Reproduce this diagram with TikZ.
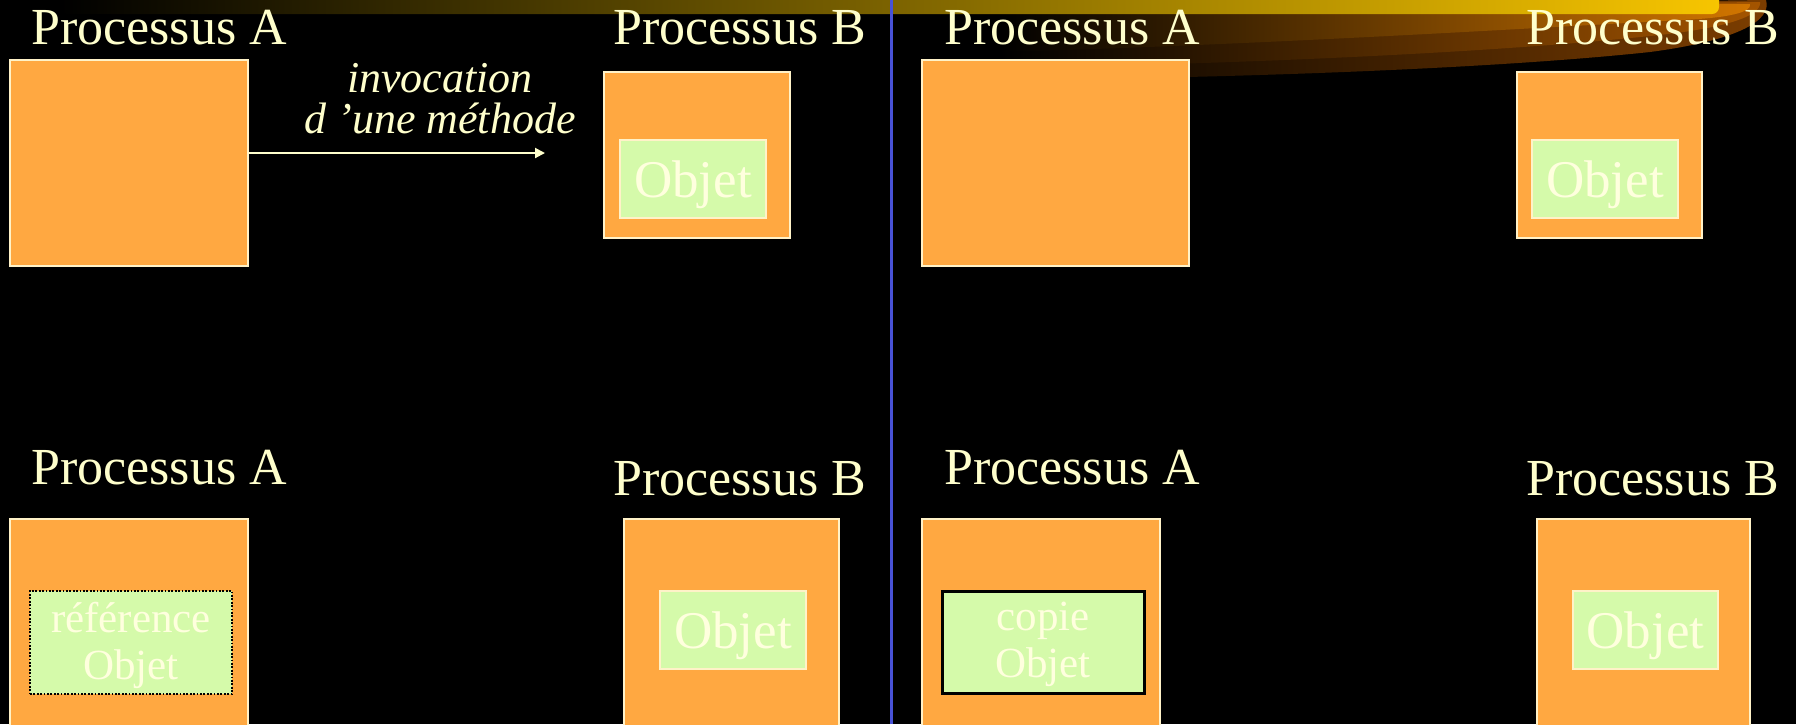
\documentclass[tikz,border=0pt]{standalone}
\usepackage{fontspec}
\setmainfont{Liberation Serif}
\usetikzlibrary{arrows.meta}
\definecolor{orangefill}{RGB}{255,168,65}
\definecolor{greenfill}{RGB}{213,250,170}
\definecolor{cream}{RGB}{255,255,204}
\definecolor{boxline}{RGB}{255,242,200}
\definecolor{objtext}{RGB}{255,255,222}
\definecolor{divider}{RGB}{72,82,214}
\definecolor{gold}{RGB}{247,197,0}
\definecolor{swooshA}{RGB}{125,62,0}
\definecolor{swooshB}{RGB}{165,85,0}
\definecolor{swooshC}{RGB}{210,118,0}
\begin{document}
\begin{tikzpicture}[x=1pt,y=-1pt,
  title/.style={anchor=base west, inner sep=0pt, text=cream, font=\fontsize{52}{56}\selectfont},
  itlabel/.style={anchor=base, inner sep=0pt, text=cream, font=\itshape\fontsize{44}{48}\selectfont},
  procbox/.style={draw=boxline, line width=2.4pt, fill=orangefill, inner sep=0pt},
  objbox/.style={draw=boxline, line width=2pt, fill=greenfill, inner sep=0pt, text depth=0pt, text=objtext, font=\fontsize{53}{56}\selectfont},
  refbox/.style={draw=black, line width=2pt, dash pattern=on 1.8pt off 1.6pt, fill=greenfill, inner sep=0pt, text depth=4pt, text=objtext, align=center, font=\fontsize{43}{47}\selectfont},
  copybox/.style={draw=black, line width=3pt, fill=greenfill, inner sep=0pt, text depth=4pt, text=objtext, align=center, font=\fontsize{43}{47}\selectfont},
  callarrow/.style={draw=cream, line width=2pt, -{Triangle[length=10pt,width=10pt]}}
]
\useasboundingbox (0,0) rectangle (1796,724);
\clip (0,0) rectangle (1796,724);
\fill[black] (0,0) rectangle (1796,724);

% decorative swoosh
\shade[left color=black, right color=swooshA]
  (1000,10) -- (1766,0) .. controls (1772,20) and (1740,40) .. (1650,52)
  .. controls (1500,68) and (1250,78) .. (1000,80) -- cycle;
\shade[left color=black, right color=swooshB]
  (1000,10) -- (1760,2) .. controls (1762,15) and (1730,28) .. (1650,36)
  .. controls (1500,52) and (1250,64) .. (1000,68) -- cycle;
\shade[left color=black, right color=swooshC]
  (1000,10) -- (1750,4) .. controls (1752,12) and (1730,18) .. (1680,20)
  .. controls (1500,30) and (1250,45) .. (1000,52) -- cycle;
\shade[left color=black, right color=gold, rounded corners=7pt]
  (60,-10) rectangle (1719,14);

% divider
\draw[divider, line width=3pt] (891,0) -- (891,724);

% top-left panel
\node[title] (tA1) at (31,44) {Processus A};
\node[title] (tB1) at (613,44) {Processus B};
\node[procbox, minimum width=238, minimum height=206] (pA1) at (129,163) {};
\node[procbox, minimum width=186, minimum height=166] (pB1) at (697,155) {};
\node[objbox, minimum width=146, minimum height=78] (o1) at (693,179) {Objet};
\node[itlabel] (l1) at (440,92) {invocation};
\node[itlabel] (l2) at (440,133) {d 'une méthode};
\coordinate (arrEnd) at (545,153);
\draw[callarrow] (pA1.east |- arrEnd) -- (arrEnd);

% top-right panel
\node[title] (tA2) at (944,44) {Processus A};
\node[title] (tB2) at (1526,44) {Processus B};
\node[procbox, minimum width=267, minimum height=206] (pA2) at (1055.5,163) {};
\node[procbox, minimum width=185, minimum height=166] (pB2) at (1609.5,155) {};
\node[objbox, minimum width=146, minimum height=78] (o2) at (1605,179) {Objet};

% bottom-left panel
\node[title] (tA3) at (31,484) {Processus A};
\node[title] (tB3) at (613,495) {Processus B};
\node[procbox, minimum width=238, minimum height=230] (pA3) at (129,634) {};
\node[procbox, minimum width=215, minimum height=230] (pB3) at (731.5,634) {};
\node[refbox, minimum width=202, minimum height=103] (r3) at (131,642.5) {référence\\Objet};
\node[objbox, minimum width=146, minimum height=78] (o3) at (733,630) {Objet};

% bottom-right panel
\node[title] (tA4) at (944,484) {Processus A};
\node[title] (tB4) at (1526,495) {Processus B};
\node[procbox, minimum width=238, minimum height=230] (pA4) at (1041,634) {};
\node[procbox, minimum width=213, minimum height=230] (pB4) at (1643.5,634) {};
\node[copybox, minimum width=202, minimum height=102] (c4) at (1043,642) {copie\\Objet};
\node[objbox, minimum width=145, minimum height=78] (o4) at (1645.5,630) {Objet};
\end{tikzpicture}
\end{document}
